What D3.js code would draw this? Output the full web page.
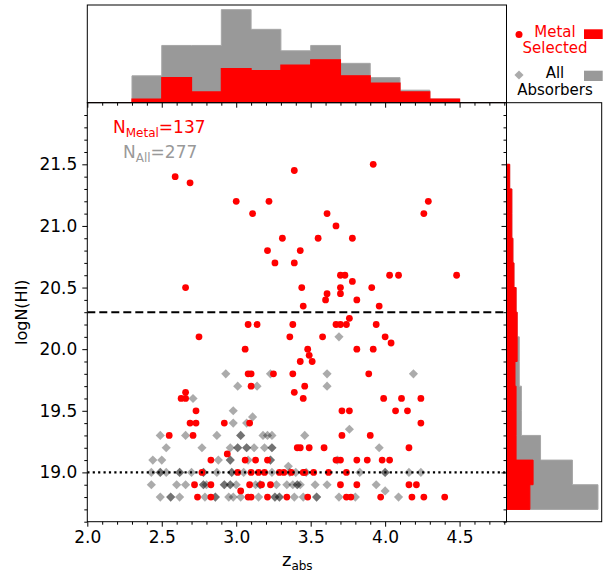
<!DOCTYPE html>
<html>
<head>
<meta charset="utf-8">
<script src="https://cdn.jsdelivr.net/npm/d3@7"></script>
<style>
  body { margin: 0; background: #fff; }
  text { font-family: "DejaVu Sans", sans-serif; }
</style>
</head>
<body>
<div id="chart"></div>
<script>
// metal selected absorbers (red dots)
const metalZ = [2.59, 2.69, 3.39, 3.92, 3.00, 3.22, 4.29, 3.11, 3.61, 4.26,
  3.67, 3.31, 3.55, 3.78, 3.21, 3.43, 3.26, 3.39, 3.70, 3.73, 4.03, 4.09, 4.48,
  3.78, 2.66, 3.44, 3.70, 3.91, 3.61, 3.70, 3.60, 3.81, 3.45, 3.96, 3.76,
  3.08, 3.14, 3.38, 3.67, 3.70, 3.74, 3.94, 2.75, 3.36, 3.58, 4.00, 4.04,
  3.06, 3.48, 3.81, 3.92, 3.49, 3.43, 3.51, 3.08, 3.10, 3.25, 3.38, 3.89,
  3.10, 3.46, 2.66, 3.39, 2.63, 2.66, 3.45, 3.99, 4.11, 4.24,
  2.73, 3.71, 3.76, 4.07, 4.15, 2.69, 2.73, 2.92, 3.09, 4.24,
  2.55, 2.71, 3.71, 3.90, 3.41, 3.43, 3.49, 3.59, 4.16, 2.94,
  2.83, 3.06, 3.13, 3.21, 3.67, 3.70, 3.81, 3.88, 3.98, 4.03,
  2.77, 3.01, 3.10, 3.15, 3.19, 3.29, 3.32, 3.37, 3.45, 3.46, 3.52, 3.62, 3.74,
  2.72, 2.83, 3.09, 3.17, 3.23, 3.70, 3.81, 4.16, 4.21, 3.03,
  2.74, 2.83, 3.08, 3.10, 3.21, 3.34, 3.48, 3.74, 3.77, 3.97, 4.18, 4.26, 4.40];
const metalN = [21.40, 21.35, 21.45, 21.50, 21.20, 21.20, 21.20, 21.10, 21.10, 21.10,
  21.00, 20.90, 20.90, 20.90, 20.80, 20.80, 20.70, 20.70, 20.60, 20.60, 20.60, 20.60, 20.60,
  20.55, 20.50, 20.50, 20.50, 20.50, 20.45, 20.45, 20.40, 20.40, 20.35, 20.35, 20.25,
  20.20, 20.20, 20.20, 20.20, 20.20, 20.20, 20.20, 20.10, 20.10, 20.10, 20.10, 20.05,
  20.00, 20.00, 20.00, 20.00, 19.95, 19.90, 19.90, 19.80, 19.80, 19.80, 19.80, 19.80,
  19.70, 19.70, 19.65, 19.65, 19.60, 19.60, 19.60, 19.60, 19.60, 19.60,
  19.50, 19.50, 19.50, 19.50, 19.50, 19.40, 19.40, 19.40, 19.40, 19.40,
  19.30, 19.30, 19.30, 19.30, 19.20, 19.20, 19.20, 19.20, 19.20, 19.15,
  19.10, 19.10, 19.10, 19.10, 19.10, 19.10, 19.10, 19.10, 19.10, 19.10,
  19.00, 19.00, 19.00, 19.00, 19.00, 19.00, 19.00, 19.00, 19.00, 19.00, 19.00, 19.00, 19.00,
  18.90, 18.90, 18.90, 18.90, 18.90, 18.90, 18.90, 18.90, 18.90, 18.85,
  18.80, 18.80, 18.80, 18.80, 18.80, 18.80, 18.80, 18.80, 18.80, 18.80, 18.80, 18.80, 18.80];

// all other absorbers (grey diamonds, translucent)
const allZ = [3.69, 3.23, 2.93, 3.61, 4.19, 3.01, 3.14, 3.61, 2.71, 2.98, 3.11, 2.98, 3.07, 3.76,
  2.49, 2.66, 2.87, 3.03, 3.03, 3.18, 3.21, 3.24, 3.46,
  2.53, 2.77, 2.96, 3.01, 3.01, 3.07, 3.07, 3.12, 3.19, 3.24, 3.24, 3.96,
  2.44, 2.50, 2.88, 2.96, 2.96, 3.08, 3.23, 3.23, 3.68, 3.35,
  2.43, 2.49, 2.49, 2.53, 2.62, 2.62, 2.70, 2.78, 2.78, 2.87, 2.97, 2.97, 3.05, 3.24,
  3.36, 3.40, 3.47, 3.83, 4.00, 4.00, 4.16, 4.24,
  2.43, 2.60, 2.66, 2.78, 2.78, 2.80, 2.92, 2.92, 2.96, 2.96, 3.00, 3.13, 3.16, 3.16,
  3.27, 3.34, 3.38, 3.41, 3.41, 3.43, 3.53, 3.61, 3.94, 4.00,
  2.49, 2.56, 2.56, 2.62, 2.79, 2.86, 2.86, 2.95, 2.98, 3.03, 3.15, 3.26, 3.26, 3.29,
  3.29, 3.39, 3.45, 3.54, 3.54, 3.69, 3.80, 4.09];
const allN = [20.10, 19.80, 19.80, 19.80, 19.80, 19.70, 19.70, 19.70, 19.60, 19.50, 19.45, 19.40, 19.40, 19.35,
  19.30, 19.30, 19.30, 19.30, 19.30, 19.30, 19.30, 19.30, 19.30,
  19.20, 19.20, 19.20, 19.20, 19.20, 19.20, 19.20, 19.20, 19.20, 19.20, 19.20, 19.20,
  19.10, 19.10, 19.10, 19.10, 19.10, 19.10, 19.10, 19.10, 19.10, 19.05,
  19.00, 19.00, 19.00, 19.00, 19.00, 19.00, 19.00, 19.00, 19.00, 19.00, 19.00, 19.00, 19.00, 19.00,
  19.00, 19.00, 19.00, 19.00, 19.00, 19.00, 19.00, 19.00,
  18.90, 18.90, 18.90, 18.90, 18.90, 18.90, 18.90, 18.90, 18.90, 18.90, 18.90, 18.90, 18.90, 18.90,
  18.90, 18.90, 18.90, 18.90, 18.90, 18.90, 18.90, 18.90, 18.90, 18.85,
  18.80, 18.80, 18.80, 18.80, 18.80, 18.80, 18.80, 18.80, 18.80, 18.80, 18.80, 18.80, 18.80, 18.80,
  18.80, 18.80, 18.80, 18.80, 18.80, 18.80, 18.80, 18.80];

// z_abs histogram (bin edges and counts)
const zEdges = [1.9, 2.1, 2.3, 2.5, 2.7, 2.9, 3.1, 3.3, 3.5, 3.7, 3.9, 4.1, 4.3, 4.5, 4.7, 4.9];
const zCountAll = [0, 0, 15, 32, 32, 52, 41, 29, 32, 22, 14, 7, 2, 0, 0];
const zCountMetal = [0, 0, 2, 14, 6, 19, 18, 21, 24, 15, 11, 6, 2, 0, 0];

// logN(HI) histogram
const nEdges = [18.7, 18.9, 19.1, 19.3, 19.5, 19.7, 19.9, 20.1, 20.3, 20.5, 20.7, 20.9, 21.1, 21.3, 21.5];
const nCountAll = [86, 62, 32, 14, 14, 12, 12, 10, 9, 7, 6, 5, 5, 3];
const nCountMetal = [22, 25, 9, 9, 9, 8, 10, 10, 9, 7, 6, 5, 5, 3];

const zMajor = [2.0, 2.5, 3.0, 3.5, 4.0, 4.5];
const nMajor = [19.0, 19.5, 20.0, 20.5, 21.0, 21.5];

const W = 612, H = 574;
const L = 87.3, R = 506.5, T = 102.7, B = 521.7;
const topT = 5, rightR = 601.7;

const RED = "#ff0000", GREY = "#999999";

const svg = d3.select("#chart").append("svg")
    .attr("width", W)
    .attr("height", H)
    .attr("viewBox", [0, 0, W, H]);

const x = d3.scaleLinear().domain([2.0, 4.815]).range([L, R]);
const y = d3.scaleLinear().domain([18.6, 22.0]).range([B, T]);
const hy = d3.scaleLinear().domain([0, 54.6]).range([T, topT]);
const hx = d3.scaleLinear().domain([0, 89.5]).range([R, rightR]);

const defs = svg.append("defs");
defs.append("clipPath").attr("id", "clipTop")
  .append("rect").attr("x", L).attr("y", topT).attr("width", R - L).attr("height", T - topT);
defs.append("clipPath").attr("id", "clipRight")
  .append("rect").attr("x", R).attr("y", T).attr("width", rightR - R).attr("height", B - T);
defs.append("clipPath").attr("id", "clipMain")
  .append("rect").attr("x", L).attr("y", T).attr("width", R - L).attr("height", B - T);

// step outline for a histogram
function stepPts(edges, counts) {
  const pts = [[edges[0], 0]];
  counts.forEach((c, i) => { pts.push([edges[i], c]); pts.push([edges[i + 1], c]); });
  pts.push([edges[edges.length - 1], 0]);
  return pts;
}

// ---- top histogram
const topLine = d3.line().x(d => x(d[0])).y(d => hy(d[1]));
const gTop = svg.append("g").attr("clip-path", "url(#clipTop)");
gTop.append("path")
    .attr("d", topLine(stepPts(zEdges, zCountAll)))
    .attr("fill", GREY).attr("stroke", "#a6a6a6").attr("stroke-width", 1);
gTop.append("path")
    .attr("d", topLine(stepPts(zEdges, zCountMetal)))
    .attr("fill", RED).attr("stroke", RED).attr("stroke-width", 1.2);

// ---- right histogram
const rightLine = d3.line().x(d => hx(d[1])).y(d => y(d[0]));
const gRight = svg.append("g").attr("clip-path", "url(#clipRight)");
gRight.append("path")
    .attr("d", rightLine(stepPts(nEdges, nCountAll)))
    .attr("fill", GREY).attr("stroke", "#a6a6a6").attr("stroke-width", 1);
gRight.append("path")
    .attr("d", rightLine(stepPts(nEdges, nCountMetal)))
    .attr("fill", RED).attr("stroke", RED).attr("stroke-width", 1);

// ---- scatter
const gMain = svg.append("g").attr("clip-path", "url(#clipMain)");
const diamond = d3.symbol().type(d3.symbolSquare).size(42);
gMain.append("g").selectAll("path")
  .data(d3.range(allZ.length))
  .join("path")
    .attr("d", diamond)
    .attr("transform", i => `translate(${x(allZ[i])},${y(allN[i])}) rotate(45)`)
    .attr("fill", "#000").attr("fill-opacity", 0.33);

gMain.append("g").selectAll("circle")
  .data(d3.range(metalZ.length))
  .join("circle")
    .attr("cx", i => x(metalZ[i]))
    .attr("cy", i => y(metalN[i]))
    .attr("r", 3.4)
    .attr("fill", RED);

// reference lines
gMain.append("line")
    .attr("x1", L).attr("x2", R).attr("y1", y(20.3)).attr("y2", y(20.3))
    .attr("stroke", "#000").attr("stroke-width", 2).attr("stroke-dasharray", "8,4");
gMain.append("line")
    .attr("x1", L).attr("x2", R).attr("y1", y(19.0)).attr("y2", y(19.0))
    .attr("stroke", "#000").attr("stroke-width", 2.2).attr("stroke-dasharray", "2.2,3.2");

// ---- axes
const zMinor = d3.range(2.1, 4.81, 0.1).filter(v => !zMajor.some(m => Math.abs(m - v) < 1e-6));
const nMinor = d3.range(18.6, 21.95, 0.1).filter(v => !nMajor.some(m => Math.abs(m - v) < 1e-6));

function addAxis(axis, tx, ty) {
  const g = svg.append("g").attr("transform", `translate(${tx},${ty})`).call(axis);
  g.select(".domain").remove();
  g.selectAll("text").attr("font-family", "DejaVu Sans").attr("font-size", 17).attr("fill", "#000");
  return g;
}
const fmt = d3.format(".1f");

// main x
addAxis(d3.axisBottom(x).tickValues(zMajor).tickSize(5).tickPadding(4).tickFormat(fmt), 0, B);
addAxis(d3.axisBottom(x).tickValues(zMinor).tickSize(3).tickFormat(""), 0, B);
// main y
addAxis(d3.axisLeft(y).tickValues(nMajor).tickSize(5).tickPadding(5).tickFormat(fmt), L, 0);
addAxis(d3.axisLeft(y).tickValues(nMinor).tickSize(3).tickFormat(""), L, 0);
// top histogram bottom ticks
addAxis(d3.axisBottom(x).tickValues(zMajor).tickSize(5).tickFormat(""), 0, T);
addAxis(d3.axisBottom(x).tickValues(zMinor).tickSize(3).tickFormat(""), 0, T);
// right histogram left ticks
addAxis(d3.axisLeft(y).tickValues(nMajor).tickSize(5).tickFormat(""), R, 0);
addAxis(d3.axisLeft(y).tickValues(nMinor).tickSize(3).tickFormat(""), R, 0);

// frames
[[L, T, R - L, B - T], [L, topT, R - L, T - topT], [R, T, rightR - R, B - T]].forEach(f => {
  svg.append("rect")
    .attr("x", f[0]).attr("y", f[1]).attr("width", f[2]).attr("height", f[3])
    .attr("fill", "none").attr("stroke", "#000").attr("stroke-width", 1);
});

// axis labels
const xl = svg.append("text")
    .attr("x", x(3.41)).attr("y", 566)
    .attr("text-anchor", "middle").attr("font-size", 18);
xl.append("tspan").text("z");
xl.append("tspan").attr("font-size", 12).attr("dy", 4).text("abs");

svg.append("text")
    .attr("transform", `translate(27,${y(20.3)}) rotate(-90)`)
    .attr("text-anchor", "middle").attr("font-size", 16)
    .text("logN(HI)");

// counts in the corner
const t1 = svg.append("text").attr("x", 113).attr("y", 133).attr("font-size", 17).attr("fill", RED);
t1.append("tspan").text("N");
t1.append("tspan").attr("font-size", 12).attr("dy", 4).text("Metal");
t1.append("tspan").attr("dy", -4).text("=137");

const t2 = svg.append("text").attr("x", 123).attr("y", 158).attr("font-size", 17).attr("fill", GREY);
t2.append("tspan").text("N");
t2.append("tspan").attr("font-size", 12).attr("dy", 4).text("All");
t2.append("tspan").attr("dy", -4).text("=277");

// ---- legend
const leg = svg.append("g");
leg.append("circle").attr("cx", 519).attr("cy", 34.5).attr("r", 3.5).attr("fill", RED);
leg.append("path").attr("d", diamond)
    .attr("transform", "translate(519,75) rotate(45)")
    .attr("fill", "#000").attr("fill-opacity", 0.33);
leg.append("rect").attr("x", 584).attr("y", 29.3).attr("width", 18.7).attr("height", 9.7).attr("fill", RED);
leg.append("rect").attr("x", 584).attr("y", 70.7).attr("width", 18.7).attr("height", 10.3).attr("fill", GREY);
[["Metal", 36.5, RED], ["Selected", 53, RED], ["All", 78, "#000"], ["Absorbers", 95, "#000"]]
  .forEach(([s, yy, c]) => {
    leg.append("text").attr("x", 555).attr("y", yy)
      .attr("text-anchor", "middle").attr("font-size", 15).attr("fill", c).text(s);
  });
</script>
</body>
</html>
